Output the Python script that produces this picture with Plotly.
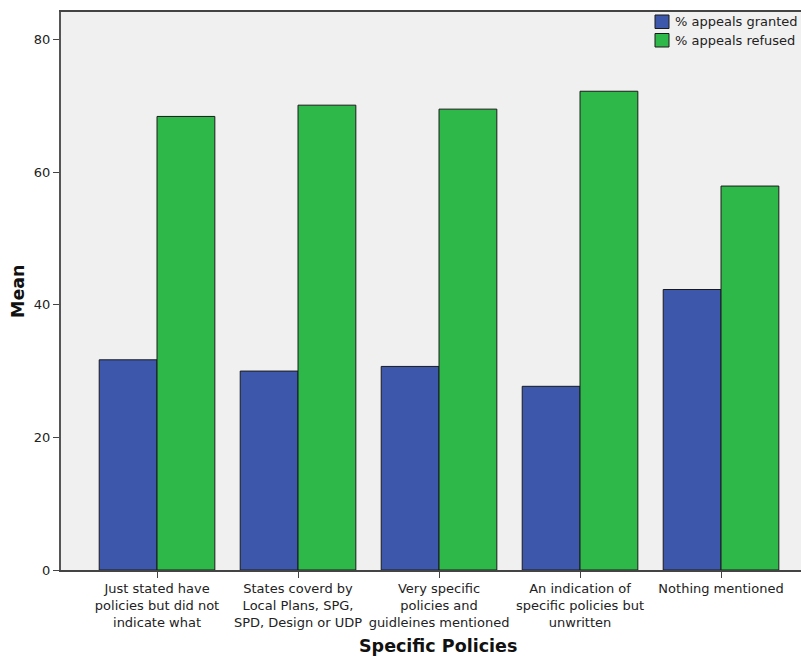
import plotly.graph_objects as go

categories = [
    "Just stated have<br>policies but did not<br>indicate what",
    "States coverd by<br>Local Plans, SPG,<br>SPD, Design or UDP",
    "Very specific<br>policies and<br>guidleines mentioned",
    "An indication of<br>specific policies but<br>unwritten",
    "Nothing mentioned",
]
granted = [31.7, 30.0, 30.7, 27.7, 42.3]
refused = [68.4, 70.1, 69.5, 72.2, 57.9]
series_names = ["% appeals granted", "% appeals refused"]
series_colors = ["#3D58AB", "#2FB84A"]
y_ticks = [0, 20, 40, 60, 80]

xpos = list(range(len(categories)))

# figure geometry (page body has an 8px margin)
W, H = 801, 652
L, R, T, B = 53, 0, 4, 90
PW, PH = W - L - R, H - T - B


def px(fx):
    return (fx - L) / PW


def py(fy):
    return 1 - (fy - T) / PH


fig = go.Figure()
for vals, name, col in zip([granted, refused], series_names, series_colors):
    fig.add_trace(go.Bar(x=xpos, y=vals, name=name, showlegend=False,
                         marker=dict(color=col, line=dict(color="#1a1a1a", width=1))))

font_family = "DejaVu Sans"

shapes = []
annotations = []
# manual legend
for i, (name, col) in enumerate(zip(series_names, series_colors)):
    top = 7 + i * 18.5
    shapes.append(dict(type="rect", xref="paper", yref="paper",
                       x0=px(647), x1=px(661), y0=py(top), y1=py(top + 13.5),
                       fillcolor=col, line=dict(color="#1a1a1a", width=1)))
    annotations.append(dict(text=name, xref="paper", yref="paper",
                            x=px(665), y=py(top + 6.75), xanchor="left",
                            yanchor="middle", showarrow=False,
                            font=dict(size=13, color="#222", family=font_family)))

annotations += [
    dict(text="<b>Mean</b>", xref="paper", yref="paper", x=0, y=0.5,
         xshift=-43, textangle=-90, showarrow=False,
         xanchor="center", yanchor="middle",
         font=dict(size=17.5, color="#111", family=font_family)),
    dict(text="<b>Specific Policies</b>", xref="paper", yref="paper",
         x=px(430), y=0, yshift=-76, showarrow=False,
         xanchor="center", yanchor="middle",
         font=dict(size=17.5, color="#111", family=font_family)),
]

fig.update_layout(
    width=W, height=H,
    margin=dict(l=L, r=R, t=T, b=B, pad=0),
    paper_bgcolor="white",
    plot_bgcolor="#F0F0F0",
    barmode="group",
    bargap=0.18,
    bargroupgap=0,
    font=dict(family=font_family, size=13, color="#222"),
    showlegend=False,
    xaxis=dict(range=[-0.681, 4.624], tickmode="array", tickvals=xpos,
               ticktext=categories, showgrid=False, zeroline=False,
               showline=True, linecolor="#444", linewidth=1.5, mirror=True,
               ticks="outside", ticklen=6, tickcolor="#444",
               tickfont=dict(size=13, color="#222")),
    yaxis=dict(range=[0, 84.15], tickmode="array", tickvals=y_ticks,
               showgrid=False, zeroline=False, showline=True, linecolor="#555",
               linewidth=2, ticks="outside", ticklen=6, tickcolor="#444",
               tickfont=dict(size=13, color="#222")),
    shapes=shapes,
    annotations=annotations,
)

fig.write_html("out.html")
